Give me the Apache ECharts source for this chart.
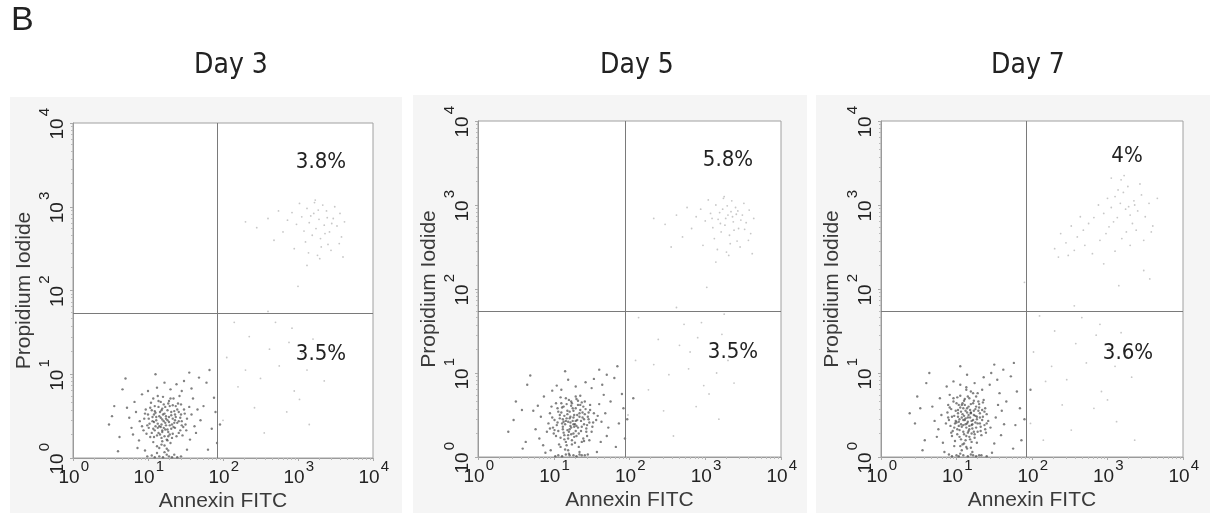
<!DOCTYPE html>
<html>
<head>
<meta charset="utf-8">
<script src="https://cdn.jsdelivr.net/npm/echarts@6/dist/echarts.min.js"></script>
<style>
  html, body { margin: 0; padding: 0; background: #fff; }
  #echarts { width: 1218px; height: 521px; }
</style>
</head>
<body>
<div id="echarts"></div>
<script>
// panel texts
var panelTitles = ['Day 3', 'Day 5', 'Day 7'];
var upperPct = ['3.8%', '5.8%', '4%'];
var lowerPct = ['3.5%', '3.5%', '3.6%'];

// decade ticks on both axes (10^0 .. 10^4)
var tickExponents = [0, 1, 2, 3, 4];

// quadrant gates (fluorescence units)
var gateX = [84, 87, 85];
var gateY = [54, 54, 54];

// events, as log10 of [Annexin FITC, Propidium Iodide]
var day3Live = [
  [1.21,0.44],[1.15,0.38],[1.08,0.52],[1.27,0.31],[1.33,0.47],[1.12,0.27],[1.19,0.59],[1.41,0.55],[1.02,0.41],[1.25,0.22],
  [1.36,0.36],[1.17,0.48],[1.09,0.33],[1.29,0.62],[1.45,0.44],[0.98,0.29],[1.22,0.15],[1.31,0.51],[1.14,0.68],[1.05,0.57],
  [1.38,0.26],[1.24,0.39],[1.11,0.45],[1.48,0.58],[1.19,0.31],[0.95,0.47],[1.34,0.71],[1.28,0.43],[1.07,0.19],[1.16,0.55],
  [1.43,0.33],[1.21,0.64],[1.01,0.36],[1.30,0.18],[1.13,0.41],[1.37,0.49],[1.26,0.57],[1.09,0.62],[1.52,0.47],[1.18,0.24],
  [0.92,0.38],[1.40,0.65],[1.23,0.34],[1.06,0.49],[1.32,0.40],[1.15,0.12],[1.47,0.37],[1.20,0.73],[1.03,0.25],[1.35,0.56],
  [1.27,0.09],[1.10,0.54],[1.44,0.52],[0.97,0.58],[1.29,0.28],[1.17,0.37],[1.39,0.42],[1.04,0.66],[1.24,0.50],[1.55,0.61],
  [1.12,0.06],[1.33,0.63],[1.08,0.43],[1.46,0.27],[1.19,0.46],[0.89,0.44],[1.42,0.74],[1.26,0.21],[1.14,0.30],[1.36,0.45],
  [1.22,0.53],[1.00,0.52],[1.31,0.35],[1.50,0.40],[1.07,0.71],[1.18,0.16],[1.28,0.68],[0.94,0.33],[1.41,0.30],[1.23,0.61],
  [0.84,0.55],[0.78,0.36],[1.58,0.52],[1.62,0.38],[1.30,0.82],[1.12,0.84],[0.88,0.21],[1.56,0.22],[1.45,0.80],[0.82,0.67],
  [1.66,0.58],[1.00,0.80],[0.75,0.48],[1.60,0.71],[1.38,0.88],[0.86,0.12],[1.52,0.10],[1.70,0.45],[0.92,0.76],[1.22,0.90],
  [1.64,0.30],[0.80,0.28],[1.48,0.92],[1.05,0.03],[1.35,0.04],[1.74,0.62],[0.72,0.60],[1.58,0.83],[0.96,0.09],[1.44,0.02],
  [1.20,0.01],[1.28,0.02],[1.15,0.02],[1.09,0.01],[1.39,0.01],[0.99,0.02],[1.25,0.04],[1.32,0.01],
  [0.55,0.62],[0.48,0.40],[0.62,0.25],[1.85,0.35],[1.88,0.72],[1.78,0.90],[1.92,0.18],[0.66,0.82],[1.55,1.02],[1.10,1.00],
  [0.60,0.08],[1.80,0.10],[1.68,0.96],[0.70,0.95],[1.90,0.55],[0.52,0.50],[1.82,1.05],[1.96,0.40]
];
var day3Core = [
  [1.18,0.40],[1.24,0.47],[1.13,0.36],[1.29,0.39],[1.20,0.52],[1.11,0.49],[1.35,0.42],[1.16,0.28],[1.26,0.34],[1.06,0.44],
  [1.39,0.58],[1.22,0.26],[1.14,0.61],[1.31,0.55],[1.05,0.30],[1.27,0.65],[1.43,0.48],[1.09,0.56],[1.19,0.20],[1.33,0.29],
  [1.01,0.47],[1.23,0.42],[1.37,0.62],[1.12,0.14],[1.28,0.49],[0.99,0.39],[1.45,0.39],[1.17,0.67],[1.25,0.11],[1.08,0.25],
  [1.41,0.44],[1.21,0.36],[1.15,0.50],[1.32,0.24],[1.03,0.60],[1.49,0.53],[1.26,0.45],[1.10,0.38],[1.36,0.52],[1.18,0.57],
  [0.96,0.53],[1.30,0.71],[1.22,0.07],[1.44,0.64],[1.07,0.35],[1.34,0.37],[1.19,0.33],[1.51,0.33],[1.13,0.74],[1.27,0.26]
];
var day3Early = [
  [2.05,1.20],[2.20,0.85],[2.35,1.45],[2.50,0.95],[2.62,1.30],[2.75,1.10],[2.88,1.38],[2.95,0.80],[3.05,1.25],[3.12,1.05],
  [3.20,1.42],[3.28,1.18],[2.42,0.60],[2.15,1.62],[2.70,1.62],[3.35,0.92],[3.45,1.30],[2.55,0.30],[2.85,0.55],[3.15,0.40],
  [2.00,0.45],[2.30,1.05],[2.92,1.55],[3.02,0.70],[2.60,1.75]
];
var day3Late = [
  [3.28,2.85],[3.35,2.78],[3.21,2.92],[3.42,2.70],[3.15,2.81],[3.38,2.95],[3.30,2.62],[3.47,2.86],[3.24,2.74],[3.12,2.98],
  [3.52,2.77],[3.33,3.02],[3.05,2.88],[3.40,2.55],[3.19,2.66],[3.56,2.92],[3.27,2.96],[2.98,2.79],[3.44,2.48],[3.10,2.58],
  [3.36,2.68],[3.22,3.05],[3.58,2.64],[2.92,2.93],[3.31,2.52],[3.49,3.00],[3.08,2.71],[3.26,2.42],[2.86,2.84],[3.45,2.80],
  [3.17,2.89],[3.39,2.87],[3.02,3.04],[3.55,2.56],[3.14,2.45],[2.80,2.70],[3.62,2.82],[3.29,2.38],[2.74,2.95],[3.23,3.08],
  [2.60,2.86],[2.45,2.75],[2.30,2.82],[2.68,2.60],[3.00,2.05],[3.60,2.40],[2.95,2.50],[3.12,2.30]
];

var day5Live = [
  [1.19,0.42],[1.27,0.36],[1.13,0.29],[1.34,0.52],[1.08,0.46],[1.23,0.61],[1.40,0.39],[1.16,0.18],[1.30,0.25],[1.05,0.58],
  [1.45,0.48],[1.21,0.33],[1.11,0.40],[1.37,0.65],[1.26,0.47],[0.99,0.35],[1.33,0.12],[1.18,0.55],[1.50,0.30],[1.09,0.23],
  [1.29,0.58],[1.42,0.57],[1.14,0.49],[1.24,0.20],[1.01,0.44],[1.36,0.31],[1.20,0.68],[1.47,0.41],[1.12,0.36],[1.31,0.44],
  [0.95,0.52],[1.39,0.22],[1.17,0.63],[1.26,0.28],[1.53,0.52],[1.06,0.31],[1.22,0.48],[1.35,0.73],[1.15,0.09],[1.43,0.34],
  [1.28,0.39],[1.03,0.64],[1.19,0.26],[1.48,0.62],[1.10,0.53],[1.32,0.35],[0.93,0.40],[1.38,0.47],[1.24,0.15],[1.16,0.43],
  [1.56,0.44],[1.07,0.15],[1.30,0.69],[1.21,0.54],[1.44,0.25],[1.13,0.60],[1.34,0.06],[1.00,0.28],[1.27,0.50],[1.41,0.66],
  [1.18,0.32],[1.51,0.36],[1.09,0.71],[1.25,0.43],[1.37,0.18],[0.97,0.60],[1.22,0.37],[1.46,0.53],[1.14,0.21],[1.32,0.62],
  [1.04,0.38],[1.40,0.45],[1.20,0.04],[1.29,0.31],[1.58,0.49],[1.12,0.45],[1.35,0.56],[1.23,0.66],[0.91,0.30],[1.47,0.20],
  [0.83,0.48],[0.79,0.61],[1.63,0.42],[1.60,0.63],[1.29,0.84],[1.10,0.80],[0.86,0.14],[1.62,0.18],[1.50,0.82],[0.87,0.72],
  [1.68,0.52],[1.04,0.85],[0.76,0.33],[1.66,0.74],[1.42,0.89],[0.89,0.05],[1.57,0.06],[1.72,0.35],[0.98,0.79],[1.19,0.92],
  [1.70,0.25],[0.81,0.22],[1.53,0.93],[1.06,0.02],[1.37,0.02],[1.75,0.66],[0.73,0.55],[1.64,0.86],[0.96,0.08],[1.45,0.03],
  [1.21,0.02],[1.30,0.01],[1.16,0.03],[1.11,0.01],[1.41,0.02],[1.02,0.01],[1.26,0.02],[1.34,0.03],
  [0.58,0.56],[0.47,0.44],[0.63,0.18],[1.86,0.40],[1.90,0.75],[1.80,0.94],[1.94,0.22],[0.65,0.86],[1.60,1.04],[1.15,1.02],
  [0.59,0.10],[1.82,0.12],[1.70,0.98],[0.69,0.97],[1.92,0.58],[0.50,0.66],[1.84,1.08],[1.97,0.45],[2.05,0.70],[0.40,0.30]
];
var day5Core = [
  [1.22,0.41],[1.17,0.46],[1.30,0.37],[1.12,0.33],[1.26,0.55],[1.36,0.43],[1.19,0.22],[1.08,0.50],[1.33,0.28],[1.24,0.64],
  [1.41,0.51],[1.15,0.39],[1.28,0.17],[1.05,0.41],[1.39,0.60],[1.20,0.30],[1.11,0.59],[1.34,0.48],[1.27,0.24],[1.01,0.32],
  [1.46,0.45],[1.18,0.51],[1.32,0.67],[1.14,0.26],[1.23,0.35],[0.98,0.47],[1.43,0.30],[1.25,0.58],[1.09,0.12],[1.37,0.36],
  [1.21,0.46],[1.16,0.70],[1.48,0.56],[1.06,0.54],[1.29,0.43],[1.40,0.19],[1.13,0.42],[1.31,0.50],[1.19,0.08],[1.52,0.41],
  [1.03,0.25],[1.26,0.39],[1.35,0.62],[1.10,0.64],[1.44,0.38],[1.23,0.27],[0.95,0.34],[1.38,0.53],[1.17,0.14],[1.29,0.72]
];
var day5Early = [
  [2.08,1.15],[2.25,0.80],[2.38,1.40],[2.52,0.98],[2.66,1.33],[2.78,1.05],[2.90,1.42],[2.98,0.85],[3.08,1.20],[3.15,1.00],
  [3.22,1.46],[3.30,1.15],[2.45,0.55],[2.12,1.66],[2.72,1.58],[3.38,0.88],[3.48,1.35],[2.58,0.25],[2.88,0.60],[3.18,0.45],
  [1.98,0.50],[2.32,1.10],[2.95,1.60],[3.05,0.75],[2.62,1.78],[2.80,1.25],[3.25,1.70]
];
var day5Late = [
  [3.30,2.88],[3.37,2.80],[3.23,2.95],[3.44,2.72],[3.17,2.83],[3.40,2.97],[3.32,2.64],[3.49,2.88],[3.26,2.76],[3.14,3.00],
  [3.54,2.79],[3.35,3.05],[3.07,2.90],[3.42,2.57],[3.21,2.68],[3.58,2.94],[3.29,2.99],[3.00,2.81],[3.46,2.50],[3.12,2.60],
  [3.38,2.70],[3.24,3.08],[3.60,2.66],[2.94,2.95],[3.33,2.54],[3.51,3.02],[3.10,2.73],[3.28,2.44],[2.88,2.86],[3.47,2.82],
  [3.19,2.91],[3.41,2.89],[3.04,3.06],[3.57,2.58],[3.16,2.47],[2.82,2.72],[3.64,2.84],[3.31,2.40],[2.76,2.97],[3.25,3.10],
  [3.34,2.92],[3.27,2.84],[3.43,2.93],[3.20,2.78],[3.36,2.86],[3.09,2.84],[3.52,2.71],
  [2.62,2.88],[2.47,2.77],[2.32,2.84],[2.70,2.62],[3.02,2.02],[3.62,2.42],[2.97,2.52],[3.14,2.32],[2.55,2.50]
];

var day7Live = [
  [1.12,0.46],[1.06,0.39],[1.19,0.52],[1.01,0.33],[1.25,0.41],[1.09,0.58],[1.15,0.29],[0.97,0.49],[1.22,0.64],[1.31,0.47],
  [1.04,0.24],[1.17,0.37],[0.93,0.57],[1.28,0.30],[1.11,0.69],[1.20,0.43],[1.00,0.41],[1.34,0.56],[1.08,0.15],[1.14,0.53],
  [0.95,0.31],[1.26,0.72],[1.13,0.35],[1.37,0.38],[1.03,0.62],[1.18,0.21],[0.90,0.44],[1.23,0.50],[1.07,0.47],[1.30,0.63],
  [1.16,0.60],[0.98,0.19],[1.40,0.51],[1.10,0.27],[1.21,0.34],[0.88,0.53],[1.27,0.45],[1.05,0.73],[1.33,0.26],[1.13,0.12],
  [0.96,0.66],[1.19,0.78],[1.02,0.48],[1.36,0.68],[1.09,0.38],[1.24,0.23],[0.92,0.37],[1.15,0.47],[1.29,0.55],[1.07,0.08],
  [1.42,0.43],[1.11,0.62],[0.99,0.55],[1.20,0.28],[1.32,0.36],[1.04,0.32],[1.17,0.70],[0.86,0.40],[1.26,0.60],[1.12,0.20],
  [1.38,0.58],[1.01,0.71],[1.22,0.44],[0.94,0.25],[1.14,0.40],[1.35,0.48],[1.06,0.54],[1.19,0.11],[1.28,0.76],[0.89,0.62],
  [1.10,0.49],[1.45,0.35],[1.03,0.42],[1.23,0.67],[1.16,0.31],[0.97,0.13],[1.31,0.40],[1.08,0.64],[1.39,0.29],[1.18,0.56],
  [1.13,0.83],[1.05,0.04],[1.21,0.06],[1.27,0.17],[0.91,0.74],[1.34,0.80],
  [0.80,0.50],[0.76,0.33],[1.52,0.47],[1.55,0.62],[1.24,0.88],[1.05,0.86],[0.82,0.17],[1.50,0.16],[1.44,0.86],[0.78,0.70],
  [1.60,0.55],[0.96,0.90],[0.71,0.43],[1.57,0.76],[1.36,0.95],[0.84,0.06],[1.47,0.05],[1.63,0.39],[0.87,0.84],[1.14,0.98],
  [1.59,0.26],[0.74,0.24],[1.46,1.00],[1.00,0.02],[1.30,0.02],[1.66,0.66],[0.68,0.60],[1.54,0.92],[0.90,0.03],[1.40,0.01],
  [1.15,0.01],[1.22,0.02],[1.09,0.02],[1.03,0.01],[1.33,0.02],[0.94,0.01],[1.19,0.03],[1.26,0.01],
  [0.52,0.58],[0.45,0.40],[0.58,0.20],[1.78,0.38],[1.80,0.78],[1.72,0.96],[1.86,0.20],[0.60,0.88],[1.50,1.10],[1.05,1.08],
  [0.55,0.08],[1.75,0.10],[1.62,1.04],[0.64,1.00],[1.84,0.58],[0.48,0.72],[1.76,1.12],[1.90,0.45],[1.98,0.80],[0.38,0.52]
];
var day7Core = [
  [1.11,0.44],[1.16,0.50],[1.07,0.36],[1.21,0.39],[1.02,0.52],[1.14,0.58],[1.25,0.49],[1.09,0.30],[0.99,0.43],[1.19,0.63],
  [1.28,0.40],[1.05,0.59],[1.13,0.25],[1.23,0.55],[0.94,0.48],[1.31,0.52],[1.10,0.67],[1.17,0.33],[1.01,0.27],[1.26,0.35],
  [1.08,0.51],[1.20,0.18],[0.91,0.59],[1.34,0.44],[1.15,0.72],[1.04,0.45],[1.23,0.30],[1.12,0.39],[0.97,0.35],[1.29,0.66],
  [1.18,0.47],[1.06,0.21],[1.37,0.54],[1.14,0.10],[1.00,0.64],[1.22,0.76],[1.09,0.44],[1.32,0.31],[0.93,0.29],[1.25,0.57],
  [1.12,0.55],[1.03,0.37],[1.40,0.40],[1.17,0.24],[0.96,0.70],[1.27,0.48],[1.07,0.62],[1.20,0.38],[1.35,0.65],[1.10,0.16],
  [1.15,0.42],[1.02,0.56],[1.24,0.27],[0.89,0.47],[1.30,0.59],[1.13,0.80],[1.05,0.13],[1.19,0.53],[1.38,0.33],[0.98,0.40]
];
var day7Early = [
  [2.02,1.25],[2.18,0.90],[2.30,1.50],[2.46,0.92],[2.58,1.35],[2.72,1.12],[2.85,1.45],[2.92,0.78],[3.02,1.30],[3.10,1.08],
  [3.18,1.48],[3.26,1.20],[2.40,0.62],[2.10,1.68],[2.66,1.66],[3.32,0.95],[3.42,1.28],[2.52,0.32],[2.82,0.58],[3.12,0.42],
  [1.98,0.40],[2.26,1.08],[2.90,1.58],[3.00,0.68],[2.56,1.80],[2.15,0.20],[3.36,0.20]
];
var day7Late = [
  [3.17,3.02],[3.24,2.95],[3.10,3.10],[3.30,2.88],[3.05,2.97],[3.21,3.15],[3.35,3.05],[3.13,2.85],[3.27,3.22],[3.00,3.08],
  [3.40,2.93],[3.18,3.30],[2.95,2.90],[3.33,2.78],[3.08,2.80],[3.45,3.12],[3.22,3.35],[2.88,3.00],[3.38,2.70],[3.02,2.74],
  [3.28,2.98],[3.14,3.18],[3.50,2.86],[2.82,2.85],[3.25,2.68],[3.43,3.25],[2.98,2.66],[3.19,2.60],[2.75,2.78],[3.36,3.00],
  [2.68,2.70],[2.60,2.62],[2.52,2.75],[2.45,2.55],[2.38,2.66],[2.30,2.48],[2.56,2.46],[2.70,2.52],[2.48,2.40],[2.64,2.86],
  [2.90,2.58],[3.55,3.02],[3.60,2.75],[3.48,2.58],[2.35,2.38],[3.10,2.45],[2.80,2.42],[3.66,3.08],[3.05,3.32],[3.30,2.52],
  [3.48,2.22],[3.56,2.12],[3.15,2.04],[2.95,2.30],[1.90,2.08],[3.58,2.68]
];

var panels = [
  { live: day3Live.concat(day3Core), early: day3Early, late: day3Late },
  { live: day5Live.concat(day5Core), early: day5Early, late: day5Late },
  { live: day7Live.concat(day7Core), early: day7Early, late: day7Late }
];

// layout
var grids = [
  { left: 73, top: 123, width: 300, height: 335 },
  { left: 478, top: 121, width: 303, height: 336 },
  { left: 881, top: 121, width: 302, height: 336 }
];
var titlePos = [[231, 66], [637, 66], [1028, 66]];
var upperPos = [[321, 162], [728, 160], [1127, 156]];
var lowerPos = [[321, 354], [733, 352], [1128, 353]];
var panelBg = [[10, 97, 392, 416], [413, 95, 394, 418], [816, 95, 394, 418]];

var condensed = "'DejaVu Sans Condensed', 'Liberation Sans', sans-serif";

var myEChart = echarts.init(document.getElementById('echarts'));

function toValue(p) {
    return [Math.pow(10, p[0]), Math.pow(10, p[1])];
}

function axisBase(i, name) {
    return {
        type: 'log',
        logBase: 10,
        min: 1,
        max: 10000,
        gridIndex: i,
        name: name,
        nameLocation: 'middle',
        nameTextStyle: { fontFamily: 'Liberation Sans', fontSize: 21, color: '#3a3a3a' },
        axisLine: { show: true, lineStyle: { color: '#9a9a9a', width: 1 } },
        axisTick: { show: true, length: 3, lineStyle: { color: '#aaa' } },
        minorTick: { show: true, splitNumber: 10, length: 2, lineStyle: { color: '#bbb' } },
        splitLine: { show: false },
        axisLabel: { show: false }
    };
}

function textItem(str, x, y, size, family, rotation) {
    return {
        type: 'text', x: x, y: y, rotation: rotation || 0, silent: true,
        style: { text: str, align: 'center', verticalAlign: 'middle',
                 fontFamily: family, fontSize: size, fill: '#222' }
    };
}

var xAxes = [], yAxes = [], seriesArray = [], graphics = [];

panelBg.forEach(function (r) {
    graphics.push({ type: 'rect', z: -10, shape: { x: r[0], y: r[1], width: r[2], height: r[3] }, style: { fill: '#f5f5f5' } });
});

panels.forEach(function (p, i) {
    var xa = axisBase(i, 'Annexin FITC');
    xa.nameGap = 33;
    xAxes.push(xa);

    var ya = axisBase(i, 'Propidium Iodide');
    ya.nameGap = 38;
    yAxes.push(ya);

    seriesArray.push({
        type: 'scatter',
        xAxisIndex: i, yAxisIndex: i,
        symbolSize: 2.4,
        itemStyle: { color: 'rgba(30,30,30,0.7)' },
        data: p.live.map(toValue),
        markLine: {
            silent: true,
            symbol: 'none',
            label: { show: false },
            lineStyle: { color: '#7a7a7a', width: 1, type: 'solid' },
            data: [{ xAxis: gateX[i] }, { yAxis: gateY[i] }]
        }
    });
    seriesArray.push({
        type: 'scatter', xAxisIndex: i, yAxisIndex: i, symbolSize: 1.8,
        itemStyle: { color: 'rgba(100,100,100,0.45)' },
        data: p.early.map(toValue)
    });
    seriesArray.push({
        type: 'scatter', xAxisIndex: i, yAxisIndex: i, symbolSize: 1.8,
        itemStyle: { color: 'rgba(100,100,100,0.45)' },
        data: p.late.map(toValue)
    });

    graphics.push(textItem(panelTitles[i], titlePos[i][0], titlePos[i][1], 28, condensed));
    graphics.push(textItem(upperPct[i], upperPos[i][0], upperPos[i][1], 22, condensed));
    graphics.push(textItem(lowerPct[i], lowerPos[i][0], lowerPos[i][1], 22, condensed));
});

graphics.push({ type: 'text', x: 11, y: 21,
    style: { text: 'B', align: 'left', verticalAlign: 'middle',
             fontFamily: 'Liberation Sans', fontSize: 34, fill: '#222' } });

var chartOption = {
    animation: false,
    backgroundColor: '#fff',
    textStyle: { fontFamily: 'Liberation Sans' },
    grid: grids.map(function (g) {
        return { left: g.left, top: g.top, width: g.width, height: g.height,
                 show: true, backgroundColor: '#fff', borderColor: '#a0a0a0', borderWidth: 1 };
    }),
    xAxis: xAxes,
    yAxis: yAxes,
    series: seriesArray
};

myEChart.setOption(chartOption);

// decade labels "10" + raised exponent, placed at each tick through the axes' own log scales
panels.forEach(function (p, i) {
    tickExponents.forEach(function (e) {
        var onX = myEChart.convertToPixel({ gridIndex: i }, [Math.pow(10, e), 1]);
        graphics.push(textItem('10', onX[0] - 4, onX[1] + 20, 19, 'Liberation Sans'));
        graphics.push(textItem(String(e), onX[0] + 12, onX[1] + 9, 15, 'Liberation Sans'));

        var onY = myEChart.convertToPixel({ gridIndex: i }, [1, Math.pow(10, e)]);
        graphics.push(textItem('10', onY[0] - 15, onY[1] + 6, 19, 'Liberation Sans', Math.PI / 2));
        graphics.push(textItem(String(e), onY[0] - 28, onY[1] - 11, 15, 'Liberation Sans', Math.PI / 2));
    });
});

myEChart.setOption({ graphic: graphics });
</script>
</body>
</html>
